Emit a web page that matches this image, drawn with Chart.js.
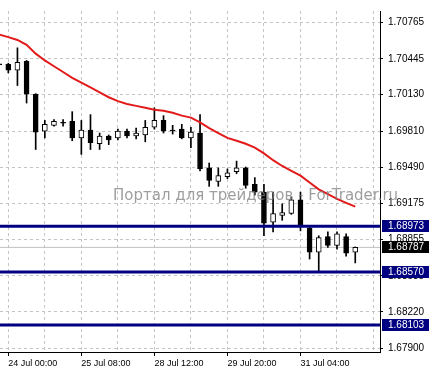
<!DOCTYPE html>
<html>
<head>
<meta charset="utf-8">
<script src="https://cdn.jsdelivr.net/npm/chart.js@4.4.1/dist/chart.umd.min.js"></script>
<style>
  html, body { margin: 0; padding: 0; background: #fff; }
  #wrap { width: 429px; height: 373px; position: relative; }
</style>
</head>
<body>
<div id="wrap"><canvas id="chart"></canvas></div>
<script>
// Velas H4, valores
const openPrices  = [1.70402, 1.70398, 1.70347, 1.70424, 1.70134, 1.69810, 1.69861, 1.69887, 1.69895, 1.69750,
                     1.69818, 1.69699, 1.69767, 1.69750, 1.69810, 1.69767, 1.69776, 1.69844, 1.69904, 1.69820,
                     1.69827, 1.69750, 1.69793, 1.69486, 1.69367, 1.69409, 1.69452, 1.69486, 1.69341, 1.69273,
                     1.69008, 1.69068, 1.69085, 1.69205, 1.68957, 1.68744, 1.68881, 1.68804, 1.68881, 1.68744];
const highPrices  = [1.70410, 1.70407, 1.70543, 1.70432, 1.70140, 1.69904, 1.69912, 1.69912, 1.69981, 1.69904,
                     1.69955, 1.69793, 1.69776, 1.69827, 1.69827, 1.69836, 1.69904, 1.70015, 1.69946, 1.69861,
                     1.69870, 1.69844, 1.69955, 1.69529, 1.69486, 1.69477, 1.69546, 1.69494, 1.69401, 1.69341,
                     1.69273, 1.69170, 1.69230, 1.69273, 1.68974, 1.68889, 1.68923, 1.68923, 1.68906, 1.68790];
const lowPrices   = [1.70390, 1.70322, 1.70211, 1.70057, 1.69648, 1.69750, 1.69853, 1.69853, 1.69725, 1.69605,
                     1.69648, 1.69648, 1.69691, 1.69733, 1.69750, 1.69742, 1.69716, 1.69827, 1.69793, 1.69784,
                     1.69742, 1.69665, 1.69460, 1.69324, 1.69324, 1.69392, 1.69435, 1.69307, 1.69247, 1.68889,
                     1.68923, 1.69025, 1.69077, 1.68932, 1.68684, 1.68570, 1.68787, 1.68770, 1.68710, 1.68650];
const closePrices = [1.70394, 1.70347, 1.70415, 1.70134, 1.69801, 1.69870, 1.69895, 1.69880, 1.69750, 1.69818,
                     1.69708, 1.69767, 1.69733, 1.69810, 1.69767, 1.69793, 1.69844, 1.69904, 1.69810, 1.69812,
                     1.69750, 1.69801, 1.69477, 1.69375, 1.69418, 1.69443, 1.69486, 1.69332, 1.69273, 1.69000,
                     1.69085, 1.69094, 1.69205, 1.68974, 1.68744, 1.68872, 1.68804, 1.68906, 1.68736, 1.68787];

// Media móvil (línea roja)
const maValues = [1.70660, 1.70637, 1.70612, 1.70569, 1.70492, 1.70432, 1.70381, 1.70330, 1.70279, 1.70236,
                  1.70194, 1.70151, 1.70108, 1.70074, 1.70049, 1.70032, 1.70015, 1.69998, 1.69989, 1.69972,
                  1.69946, 1.69929, 1.69887, 1.69836, 1.69793, 1.69750, 1.69725, 1.69699, 1.69665, 1.69614,
                  1.69554, 1.69503, 1.69460, 1.69418, 1.69358, 1.69298, 1.69256, 1.69213, 1.69179, 1.69145];

// Niveles horizontales y precio actual
const levels = [1.68973, 1.68570, 1.68103];
const lastPrice = 1.68787;

// Ejes
const priceTicks = [1.70765, 1.70445, 1.70130, 1.69810, 1.69490, 1.69175, 1.68855, 1.68535, 1.68220, 1.67900];
const gridIndex = [1, 5, 9, 13, 17, 21, 25, 29, 33, 37, 41];
const labelIndex = [1, 9, 17, 25, 33];
const timeLabels = ['24 Jul 00:00', '25 Jul 08:00', '28 Jul 12:00', '29 Jul 20:00', '31 Jul 04:00'];
const watermark = 'Портал для трейдеров - ForTrader.ru';

const xMin = 0.09, xMax = 41.71;
const yMin = 1.67866, yMax = 1.70867;

const bodies = openPrices.map((o, i) => ({ x: i, y: [o, closePrices[i]] }));
const wicks = highPrices.map((h, i) => ({ x: i, y: [lowPrices[i], h] }));
const bodyColors = openPrices.map((o, i) => closePrices[i] >= o ? '#ffffff' : '#000000');

const levelSets = levels.map(v => ({
    type: 'line',
    data: [{ x: xMin, y: v }, { x: xMax, y: v }],
    borderColor: '#000080',
    borderWidth: 3,
    pointRadius: 0,
    order: -2
}));

function drawTag(chart, value, color) {
    const ctx = chart.ctx;
    const py = Math.round(chart.scales.y.getPixelForValue(value));
    const left = chart.chartArea.right + 2;
    ctx.save();
    ctx.fillStyle = color;
    ctx.fillRect(left, py - 6, chart.width - left, 12);
    ctx.fillStyle = '#ffffff';
    ctx.font = '10px "Liberation Sans"';
    ctx.textBaseline = 'middle';
    ctx.fillText(value.toFixed(5), chart.chartArea.right + 8, py + 0.5);
    ctx.restore();
}

const overlay = {
    id: 'overlay',
    afterDatasetsDraw(chart) {
        const ctx = chart.ctx;
        ctx.save();
        ctx.font = '15px "DejaVu Sans"';
        ctx.fillStyle = 'rgba(125,125,125,0.75)';
        ctx.textBaseline = 'middle';
        ctx.fillText(watermark, 113, 196);
        ctx.restore();
    },
    afterDraw(chart) {
        levels.forEach(v => drawTag(chart, v, '#000080'));
        drawTag(chart, lastPrice, '#000000');
    }
};

Chart.defaults.font.family = '"Liberation Sans", sans-serif';
Chart.defaults.color = '#000000';

new Chart(document.getElementById('chart'), {
    type: 'bar',
    data: {
        datasets: [
            {
                type: 'line',
                data: maValues.map((v, i) => ({ x: i, y: v })),
                borderColor: '#e31a1a',
                borderWidth: 2,
                pointRadius: 0,
                tension: 0,
                order: -3
            },
            ...levelSets,
            {
                type: 'line',
                data: [{ x: xMin, y: lastPrice }, { x: xMax, y: lastPrice }],
                borderColor: '#c0c0c0',
                borderWidth: 1,
                pointRadius: 0,
                order: 5
            },
            {
                data: bodies,
                backgroundColor: bodyColors,
                borderColor: '#000000',
                borderWidth: 1,
                borderSkipped: false,
                barThickness: 5,
                grouped: false,
                order: 0
            },
            {
                data: wicks,
                backgroundColor: '#000000',
                borderWidth: 0,
                barThickness: 1,
                grouped: false,
                order: 1
            }
        ]
    },
    options: {
        responsive: true,
        maintainAspectRatio: false,
        animation: false,
        devicePixelRatio: 1,
        layout: { padding: 0 },
        plugins: { legend: { display: false }, tooltip: { enabled: false } },
        scales: {
            x: {
                type: 'linear',
                offset: false,
                min: xMin,
                max: xMax,
                afterBuildTicks: s => { s.ticks = gridIndex.map(v => ({ value: v })); },
                afterFit: s => { s.height = 21; },
                ticks: {
                    autoSkip: false,
                    maxRotation: 0,
                    align: 'start',
                    padding: 2,
                    font: { size: 9 },
                    callback: v => {
                        const k = labelIndex.indexOf(v);
                        return k >= 0 ? timeLabels[k] : '';
                    }
                },
                grid: {
                    offset: false,
                    color: '#c4c4c4',
                    tickLength: 4,
                    tickColor: c => labelIndex.includes(c.tick && c.tick.value) ? '#000000' : 'rgba(0,0,0,0)',
                    tickBorderDash: []
                },
                border: { color: '#000000', width: 1, dash: [3, 3] }
            },
            y: {
                position: 'right',
                min: yMin,
                max: yMax,
                afterBuildTicks: s => { s.ticks = priceTicks.map(v => ({ value: v })); },
                afterFit: s => { s.width = 49; },
                ticks: {
                    padding: 5,
                    font: { size: 10 },
                    callback: v => v.toFixed(5)
                },
                grid: {
                    color: '#c4c4c4',
                    tickLength: 3,
                    tickColor: '#000000',
                    tickBorderDash: []
                },
                border: { color: '#000000', width: 1, dash: [3, 3] }
            }
        }
    },
    plugins: [overlay]
});
</script>
</body>
</html>
